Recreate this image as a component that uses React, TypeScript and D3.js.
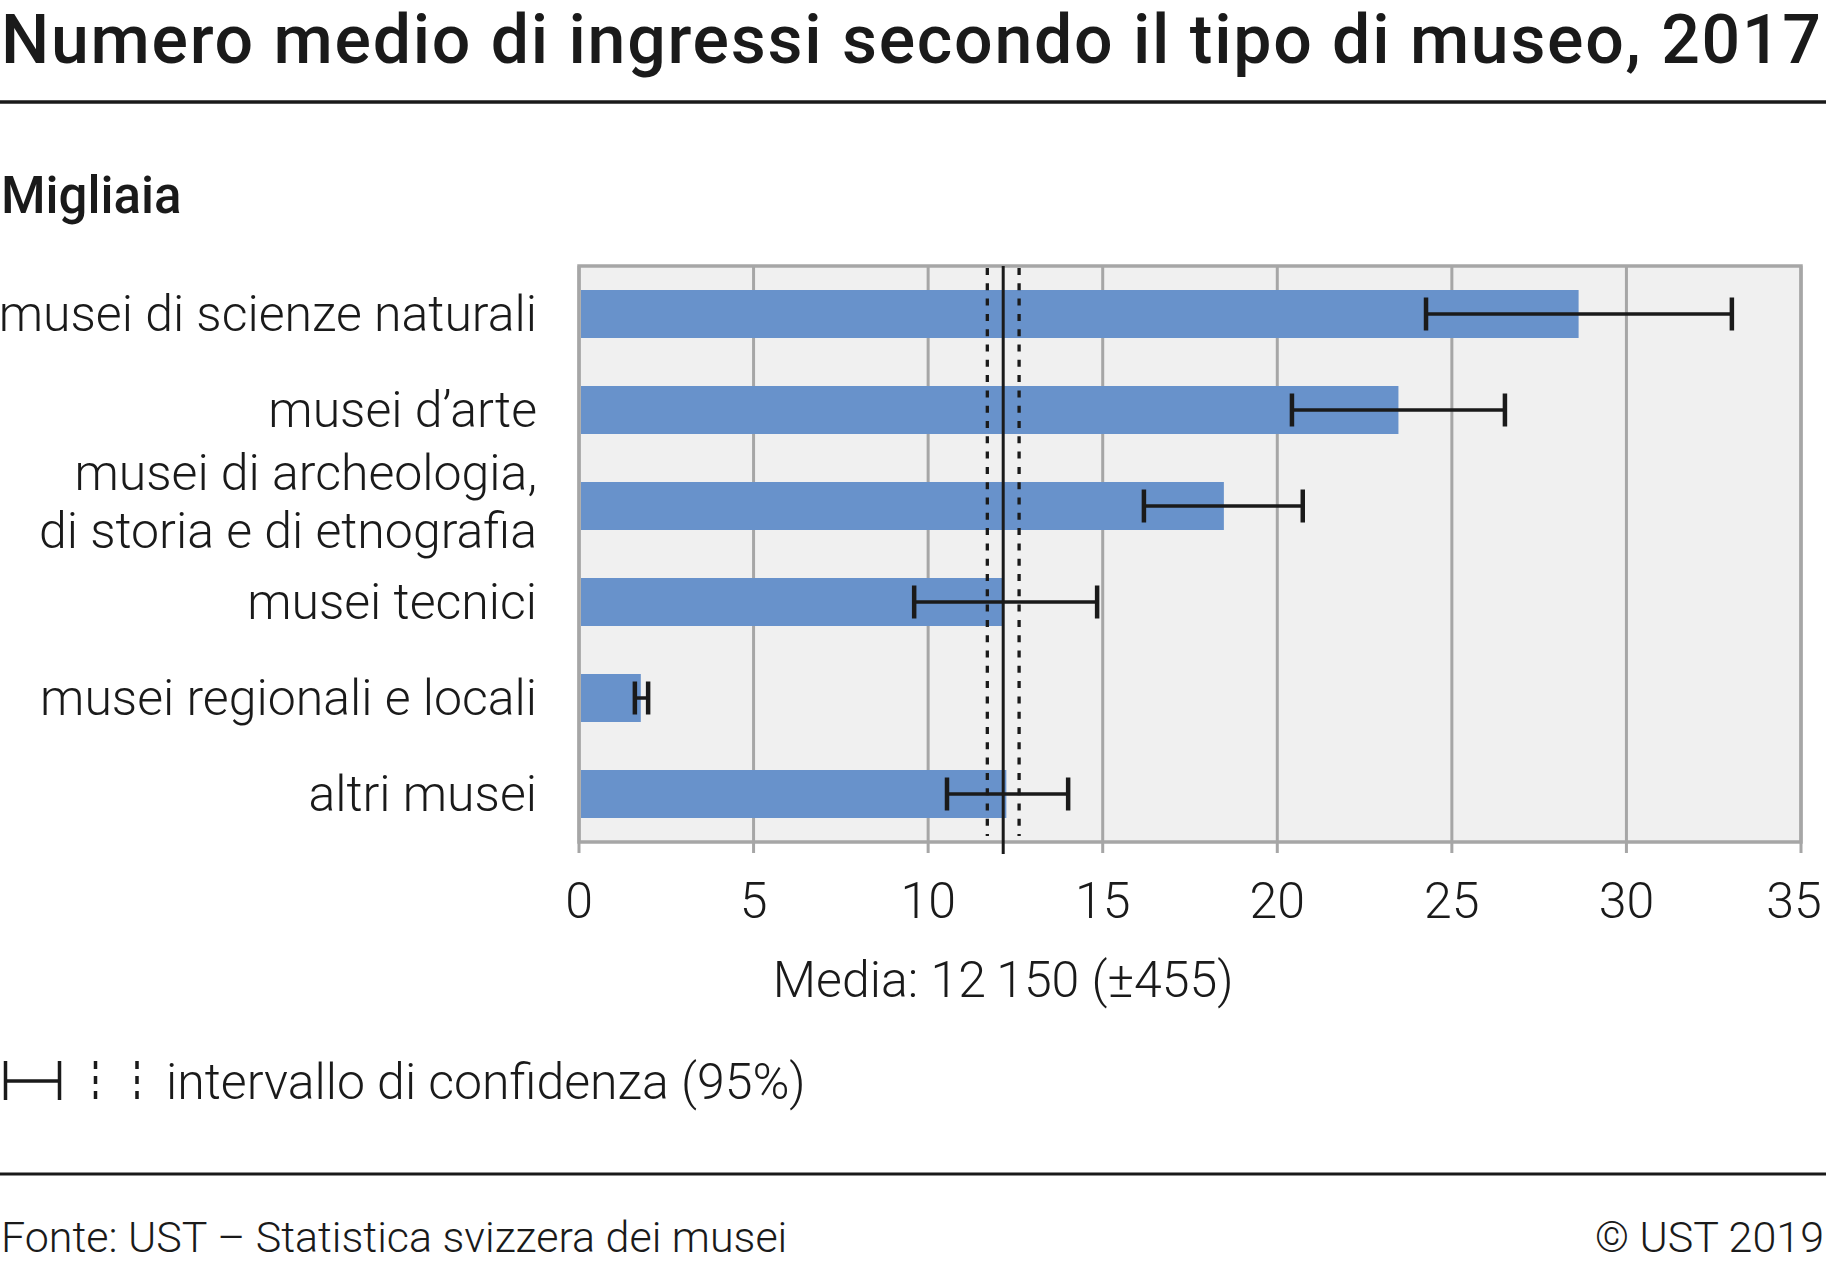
import * as d3 from 'd3'

const categories = [
  'musei di scienze naturali',
  'musei d’arte',
  'musei di archeologia,\ndi storia e di etnografia',
  'musei tecnici',
  'musei regionali e locali',
  'altri musei',
]
const means = [28.63, 23.47, 18.47, 12.16, 1.77, 12.24]
const lower = [24.26, 20.42, 16.18, 9.6, 1.6, 10.54]
const upper = [33.02, 26.52, 20.73, 14.84, 1.98, 14.01]
const overallMean = 12.15
const overallCI = 0.455
const xTicks = [0, 5, 10, 15, 20, 25, 30, 35]

const W = 1826
const H = 1262
const plot = { left: 579, right: 1801, top: 266, bottom: 842 }
const font = 'Roboto, "Noto Sans", sans-serif'
const ink = '#1a1a1a'
const grey = '#a6a6a6'

export default function App() {
  const x = d3.scaleLinear().domain([0, 35]).range([plot.left, plot.right])
  const y = d3.scaleBand<string>()
    .domain(categories)
    .range([plot.top, plot.bottom])
    .paddingInner(0.5)
    .paddingOuter(0.25)
  const bw = y.bandwidth()
  const capH = 33

  return (
    <svg width={W} height={H} style={{ position: 'absolute', left: 0, top: 0 }}
      fontFamily={font} fill={ink}>
      <rect width={W} height={H} fill="#fff" />

      {/* title */}
      <text x={1} y={63} fontSize={68} fontWeight={500} textLength={1820} lengthAdjust="spacing">
        Numero medio di ingressi secondo il tipo di museo, 2017
      </text>
      <line x1={0} x2={W} y1={102} y2={102} stroke={ink} strokeWidth={3.5} />

      <text x={1} y={213} fontSize={51} fontWeight={500}>Migliaia</text>

      {/* plot area */}
      <rect x={plot.left} y={plot.top} width={plot.right - plot.left} height={plot.bottom - plot.top}
        fill="#f0f0f0" />
      {xTicks.map(t => (
        <line key={'g' + t} x1={x(t)} x2={x(t)} y1={plot.top} y2={plot.bottom + 11}
          stroke={grey} strokeWidth={3} />
      ))}
      <rect x={plot.left} y={plot.top} width={plot.right - plot.left} height={plot.bottom - plot.top}
        fill="none" stroke={grey} strokeWidth={3.5} />

      {/* bars */}
      {categories.map((c, i) => (
        <rect key={'b' + i} x={x(0) + 2} y={y(c)} width={x(means[i]) - x(0) - 2} height={bw} fill="#6892cb" />
      ))}

      {/* overall mean and CI */}
      {[overallMean - overallCI, overallMean + overallCI].map((v, i) => (
        <line key={'ci' + i} x1={x(v)} x2={x(v)} y1={plot.top + 2} y2={plot.bottom - 6}
          stroke={ink} strokeWidth={3.3} strokeDasharray="7 8.3" />
      ))}
      <line x1={x(overallMean)} x2={x(overallMean)} y1={plot.top} y2={plot.bottom + 12}
        stroke={ink} strokeWidth={3} />

      {/* error bars */}
      {categories.map((c, i) => {
        const cy = (y(c) as number) + bw / 2
        return (
          <g key={'e' + i} stroke={ink}>
            <line x1={x(lower[i])} x2={x(upper[i])} y1={cy} y2={cy} strokeWidth={3.5} />
            <line x1={x(lower[i])} x2={x(lower[i])} y1={cy - capH / 2} y2={cy + capH / 2} strokeWidth={4.5} />
            <line x1={x(upper[i])} x2={x(upper[i])} y1={cy - capH / 2} y2={cy + capH / 2} strokeWidth={4.5} />
          </g>
        )
      })}

      {/* category labels */}
      {categories.map((c, i) => {
        const cy = (y(c) as number) + bw / 2
        const lines = c.split('\n')
        const lh = 58
        const start = cy + 17 - ((lines.length - 1) * lh) / 2 - (lines.length > 1 ? 4 : 0)
        return (
          <text key={'l' + i} x={537} fontSize={50} fontWeight={300} textAnchor="end">
            {lines.map((s, j) => (
              <tspan key={j} x={537} y={start + j * lh}>{s}</tspan>
            ))}
          </text>
        )
      })}

      {/* x tick labels */}
      {xTicks.map(t => (
        <text key={'t' + t} x={Math.min(x(t), 1794)} y={918} fontSize={50} fontWeight={300} textAnchor="middle">{t}</text>
      ))}
      <text x={x(overallMean)} y={997} fontSize={50} fontWeight={300} textAnchor="middle">
        {'Media: 12\u2009150 (±455)'}
      </text>

      {/* legend */}
      <g stroke={ink}>
        <line x1={4} x2={61} y1={1081} y2={1081} strokeWidth={3.5} />
        <line x1={5.5} x2={5.5} y1={1061} y2={1100} strokeWidth={3.5} />
        <line x1={59.5} x2={59.5} y1={1061} y2={1100} strokeWidth={3.5} />
        <line x1={95.5} x2={95.5} y1={1061} y2={1099} strokeWidth={3.5} strokeDasharray="8 7" />
        <line x1={137} x2={137} y1={1061} y2={1099} strokeWidth={3.5} strokeDasharray="8 7" />
      </g>
      <text x={166} y={1099} fontSize={50} fontWeight={300}>intervallo di confidenza (95%)</text>

      {/* footer */}
      <line x1={0} x2={W} y1={1174} y2={1174} stroke={ink} strokeWidth={3} />
      <text x={1} y={1252} fontSize={43} fontWeight={300}>Fonte: UST – Statistica svizzera dei musei</text>
      <text x={1824} y={1252} fontSize={43} fontWeight={300} textAnchor="end">© UST 2019</text>
    </svg>
  )
}
